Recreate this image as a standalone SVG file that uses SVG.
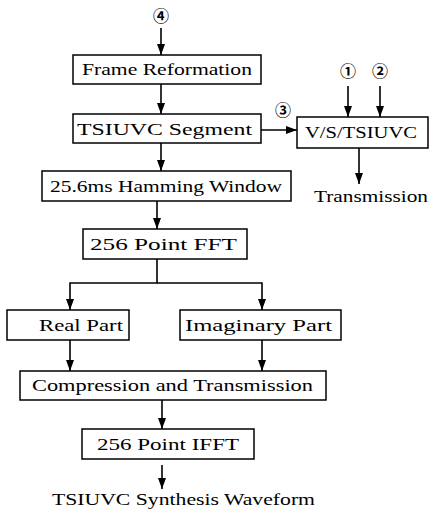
<svg xmlns="http://www.w3.org/2000/svg" width="430" height="510" viewBox="0 0 430 510">
<style>
.box{fill:#fff;stroke:#000;stroke-width:1.5}
.t{font-family:"Liberation Serif","DejaVu Serif",serif;font-size:17px;fill:#000}
.c{font-family:"Noto Sans CJK JP","DejaVu Sans",sans-serif;font-size:16px;font-weight:bold;fill:#000;text-anchor:middle}
.ln{fill:none;stroke:#000;stroke-width:1.6}
</style>
<defs>
<marker id="ah" markerUnits="userSpaceOnUse" markerWidth="11" markerHeight="8" refX="11" refY="4" orient="auto" viewBox="0 0 11 8">
<path d="M0,0 L11,4 L0,8 z" fill="#000"/>
</marker>
</defs>
<rect width="430" height="510" fill="#fff"/>
<g id="connectors">
<path class="ln" d="M161 28 V55" marker-end="url(#ah)"/>
<path class="ln" d="M161 84 V114" marker-end="url(#ah)"/>
<path class="ln" d="M161 143 V171" marker-end="url(#ah)"/>
<path class="ln" d="M261 130 H297" marker-end="url(#ah)"/>
<path class="ln" d="M348 86 V117" marker-end="url(#ah)"/>
<path class="ln" d="M380 86 V117" marker-end="url(#ah)"/>
<path class="ln" d="M359 148 V184" marker-end="url(#ah)"/>
<path class="ln" d="M157 201 V229" marker-end="url(#ah)"/>
<path class="ln" d="M157 259 V283 H70 V310" marker-end="url(#ah)"/>
<path class="ln" d="M157 283 H262 V310" marker-end="url(#ah)"/>
<path class="ln" d="M70 340 V371" marker-end="url(#ah)"/>
<path class="ln" d="M262 340 V371" marker-end="url(#ah)"/>
<path class="ln" d="M162 400 V429" marker-end="url(#ah)"/>
<path class="ln" d="M162 465 V489" marker-end="url(#ah)"/>
</g>
<g id="in4"><text class="c" x="161" y="22">④</text></g>
<g id="in1"><text class="c" x="348" y="77">①</text></g>
<g id="in2"><text class="c" x="380" y="77">②</text></g>
<g id="in3"><text class="c" x="283" y="116">③</text></g>
<g id="frame">
<rect class="box" x="73" y="55" width="188" height="29"/>
<text class="t" x="82" y="75" textLength="170" lengthAdjust="spacingAndGlyphs">Frame Reformation</text>
</g>
<g id="segment">
<rect class="box" x="73" y="114" width="188" height="29"/>
<text class="t" x="77" y="135" textLength="175" lengthAdjust="spacingAndGlyphs">TSIUVC Segment</text>
</g>
<g id="vs">
<rect class="box" x="297" y="117" width="131" height="31"/>
<text class="t" x="305" y="138" textLength="112" lengthAdjust="spacingAndGlyphs">V/S/TSIUVC</text>
</g>
<g id="transmission">
<text class="t" x="314" y="202" textLength="114" lengthAdjust="spacingAndGlyphs">Transmission</text>
</g>
<g id="hamming">
<rect class="box" x="42" y="171" width="249" height="30"/>
<text class="t" x="50" y="192" textLength="232" lengthAdjust="spacingAndGlyphs">25.6ms Hamming Window</text>
</g>
<g id="fft">
<rect class="box" x="83" y="229" width="164" height="30"/>
<text class="t" x="90" y="250" textLength="147" lengthAdjust="spacingAndGlyphs">256 Point FFT</text>
</g>
<g id="real">
<rect class="box" x="7" y="310" width="122" height="30"/>
<text class="t" x="39" y="331" textLength="84" lengthAdjust="spacingAndGlyphs">Real Part</text>
</g>
<g id="imag">
<rect class="box" x="180" y="310" width="161" height="30"/>
<text class="t" x="185" y="331" textLength="147" lengthAdjust="spacingAndGlyphs">Imaginary Part</text>
</g>
<g id="compression">
<rect class="box" x="20" y="371" width="306" height="29"/>
<text class="t" x="32" y="391" textLength="281" lengthAdjust="spacingAndGlyphs">Compression and Transmission</text>
</g>
<g id="ifft">
<rect class="box" x="82" y="429" width="172" height="30"/>
<text class="t" x="97" y="450" textLength="142" lengthAdjust="spacingAndGlyphs">256 Point IFFT</text>
</g>
<g id="synthesis">
<text class="t" x="52" y="505" textLength="263" lengthAdjust="spacingAndGlyphs">TSIUVC Synthesis Waveform</text>
</g>
</svg>
